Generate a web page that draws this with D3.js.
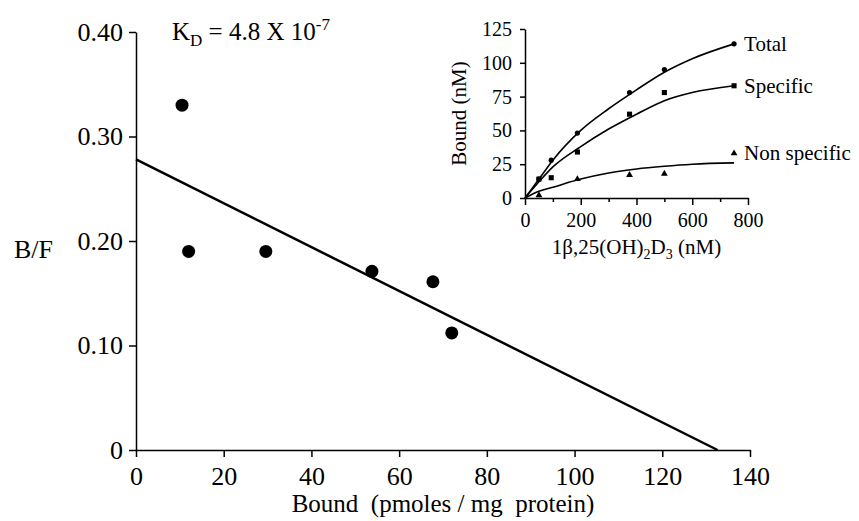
<!DOCTYPE html>
<html>
<head>
<meta charset="utf-8">
<script src="https://cdn.jsdelivr.net/npm/d3@7"></script>
<style>
  body { margin: 0; background: #fff; }
  svg { display: block; font-family: "Liberation Serif", "Times New Roman", serif; }
  .axis path, .axis line { stroke: #000; stroke-width: 1.5; }
  .axis text { fill: #000; font-family: "Liberation Serif", "Times New Roman", serif; }
</style>
</head>
<body>
<script>
// Scatchard plot (main)
const mainBound = [10.5, 12, 29.6, 53.8, 67.7, 72];
const mainBF = [0.33, 0.19, 0.19, 0.171, 0.161, 0.112];
const fitBound = [0, 132.6];
const fitBF = [0.278, 0];
const mainXTicks = [0, 20, 40, 60, 80, 100, 120, 140];
const mainYTicks = [0, 0.1, 0.2, 0.3, 0.4];
const mainYLabels = ["0", "0.10", "0.20", "0.30", "0.40"];

// saturation curves (inset)
const insetConc = [50, 94, 188, 375, 500, 750];
const totalBound = [14, 28, 48, 78, 95, 114];
const specificBound = [14, 15, 34, 62, 78, 83];
const nonConc = [50, 188, 375, 500, 750];
const nonspecificBound = [2, 14, 17, 18, 33];
const curveConc = [0, 50, 100, 200, 300, 400, 500, 600, 750];
const totalCurve = [0, 14, 28, 50, 66, 80, 93, 103, 114];
const specificCurve = [0, 12, 23, 38, 51, 62, 72, 78, 83];
const nonspecificCurve = [0, 5, 8, 14, 18.5, 21.5, 23.5, 25, 26];
const insetXMajor = [0, 200, 400, 600, 800];
const insetXMinor = [100, 300, 500, 700];
const insetYTicks = [0, 25, 50, 75, 100, 125];

const W = 859, H = 521;
const svg = d3.select("body").append("svg")
    .attr("width", W)
    .attr("height", H);

svg.append("rect").attr("width", W).attr("height", H).attr("fill", "#fff");

// ---- main plot ----
const x = d3.scaleLinear().domain([0, 140]).range([136, 750]);
const y = d3.scaleLinear().domain([0, 0.4]).range([450, 32]);

svg.append("g")
    .attr("class", "axis")
    .attr("transform", `translate(${x(0)},0)`)
    .call(d3.axisLeft(y).tickValues(mainYTicks)
        .tickFormat((d, i) => mainYLabels[i])
        .tickSize(7).tickSizeOuter(0).tickPadding(6))
    .call(g => g.selectAll("text").attr("font-size", 26));

svg.append("g")
    .attr("class", "axis")
    .attr("transform", `translate(0,${y(0)})`)
    .call(d3.axisBottom(x).tickValues(mainXTicks)
        .tickFormat(d3.format("d"))
        .tickSize(7).tickSizeOuter(0).tickPadding(10))
    .call(g => g.selectAll("text").attr("font-size", 26));

svg.append("line")
    .attr("x1", x(fitBound[0])).attr("y1", y(fitBF[0]))
    .attr("x2", x(fitBound[1])).attr("y2", y(fitBF[1]))
    .attr("stroke", "#000").attr("stroke-width", 2.5);

svg.append("g").selectAll("circle")
    .data(mainBound.map((b, i) => [b, mainBF[i]]))
    .enter().append("circle")
    .attr("cx", d => x(d[0]))
    .attr("cy", d => y(d[1]))
    .attr("r", 6.5)
    .attr("fill", "#000");

svg.append("text")
    .attr("x", 53).attr("y", 258)
    .attr("text-anchor", "end")
    .attr("font-size", 26)
    .text("B/F");

svg.append("text")
    .attr("x", 443).attr("y", 512)
    .attr("text-anchor", "middle")
    .attr("font-size", 25)
    .attr("xml:space", "preserve")
    .style("white-space", "pre")
    .text("Bound  (pmoles / mg  protein)");

const kd = svg.append("text")
    .attr("x", 172).attr("y", 40)
    .attr("font-size", 25);
kd.append("tspan").text("K");
kd.append("tspan").attr("font-size", 17).attr("dy", 6).text("D");
kd.append("tspan").attr("dy", -6).text(" = 4.8 X 10");
kd.append("tspan").attr("font-size", 17).attr("dy", -10).text("-7");

// ---- inset ----
const ix = d3.scaleLinear().domain([0, 800]).range([525, 748]);
const iy = d3.scaleLinear().domain([0, 125]).range([198, 29]);

svg.append("g")
    .attr("class", "axis")
    .attr("transform", `translate(${ix(0)},0)`)
    .call(d3.axisLeft(iy).tickValues(insetYTicks)
        .tickSize(5).tickSizeOuter(0).tickPadding(8))
    .call(g => g.selectAll("text").attr("font-size", 20));

svg.append("g")
    .attr("class", "axis")
    .attr("transform", `translate(0,${iy(0)})`)
    .call(d3.axisBottom(ix).tickValues(insetXMajor)
        .tickSize(7).tickSizeOuter(0).tickPadding(8))
    .call(g => g.selectAll("text").attr("font-size", 20));

svg.append("g")
    .attr("class", "axis")
    .attr("transform", `translate(0,${iy(0)})`)
    .call(d3.axisBottom(ix).tickValues(insetXMinor)
        .tickSize(4).tickSizeOuter(0).tickFormat(""))
    .call(g => g.select(".domain").remove());

const line = d3.line()
    .x(d => ix(d[0]))
    .y(d => iy(d[1]))
    .curve(d3.curveMonotoneX);

[totalCurve, specificCurve, nonspecificCurve].forEach(c => {
  svg.append("path")
      .attr("d", line(curveConc.map((v, i) => [v, c[i]])))
      .attr("fill", "none")
      .attr("stroke", "#000")
      .attr("stroke-width", 1.6);
});

svg.append("g").selectAll("circle")
    .data(insetConc.map((v, i) => [v, totalBound[i]]))
    .enter().append("circle")
    .attr("cx", d => ix(d[0]))
    .attr("cy", d => iy(d[1]))
    .attr("r", 2.6)
    .attr("fill", "#000");

svg.append("g").selectAll("path")
    .data(insetConc.map((v, i) => [v, specificBound[i]]))
    .enter().append("path")
    .attr("d", d3.symbol(d3.symbolSquare, 26))
    .attr("transform", d => `translate(${ix(d[0])},${iy(d[1])})`)
    .attr("fill", "#000");

svg.append("g").selectAll("path")
    .data(nonConc.map((v, i) => [v, nonspecificBound[i]]))
    .enter().append("path")
    .attr("d", d3.symbol(d3.symbolTriangle, 20))
    .attr("transform", d => `translate(${ix(d[0])},${iy(d[1])})`)
    .attr("fill", "#000");

const labels = [["Total", totalCurve], ["Specific", specificCurve], ["Non specific", nonspecificBound]];
labels.forEach(([name, arr]) => {
  const last = arr[arr.length - 1];
  svg.append("text")
      .attr("x", ix(750) + 10)
      .attr("y", iy(last) + 7)
      .attr("font-size", 21)
      .text(name);
});

svg.append("text")
    .attr("transform", `translate(466,${(iy(0) + iy(125)) / 2}) rotate(-90)`)
    .attr("text-anchor", "middle")
    .attr("font-size", 21)
    .text("Bound (nM)");

const xl = svg.append("text")
    .attr("x", ix(400)).attr("y", 254)
    .attr("text-anchor", "middle")
    .attr("font-size", 21);
xl.append("tspan").text("1β,25(OH)");
xl.append("tspan").attr("font-size", 14).attr("dy", 5).text("2");
xl.append("tspan").attr("dy", -5).text("D");
xl.append("tspan").attr("font-size", 14).attr("dy", 5).text("3");
xl.append("tspan").attr("dy", -5).text(" (nM)");
</script>
</body>
</html>
